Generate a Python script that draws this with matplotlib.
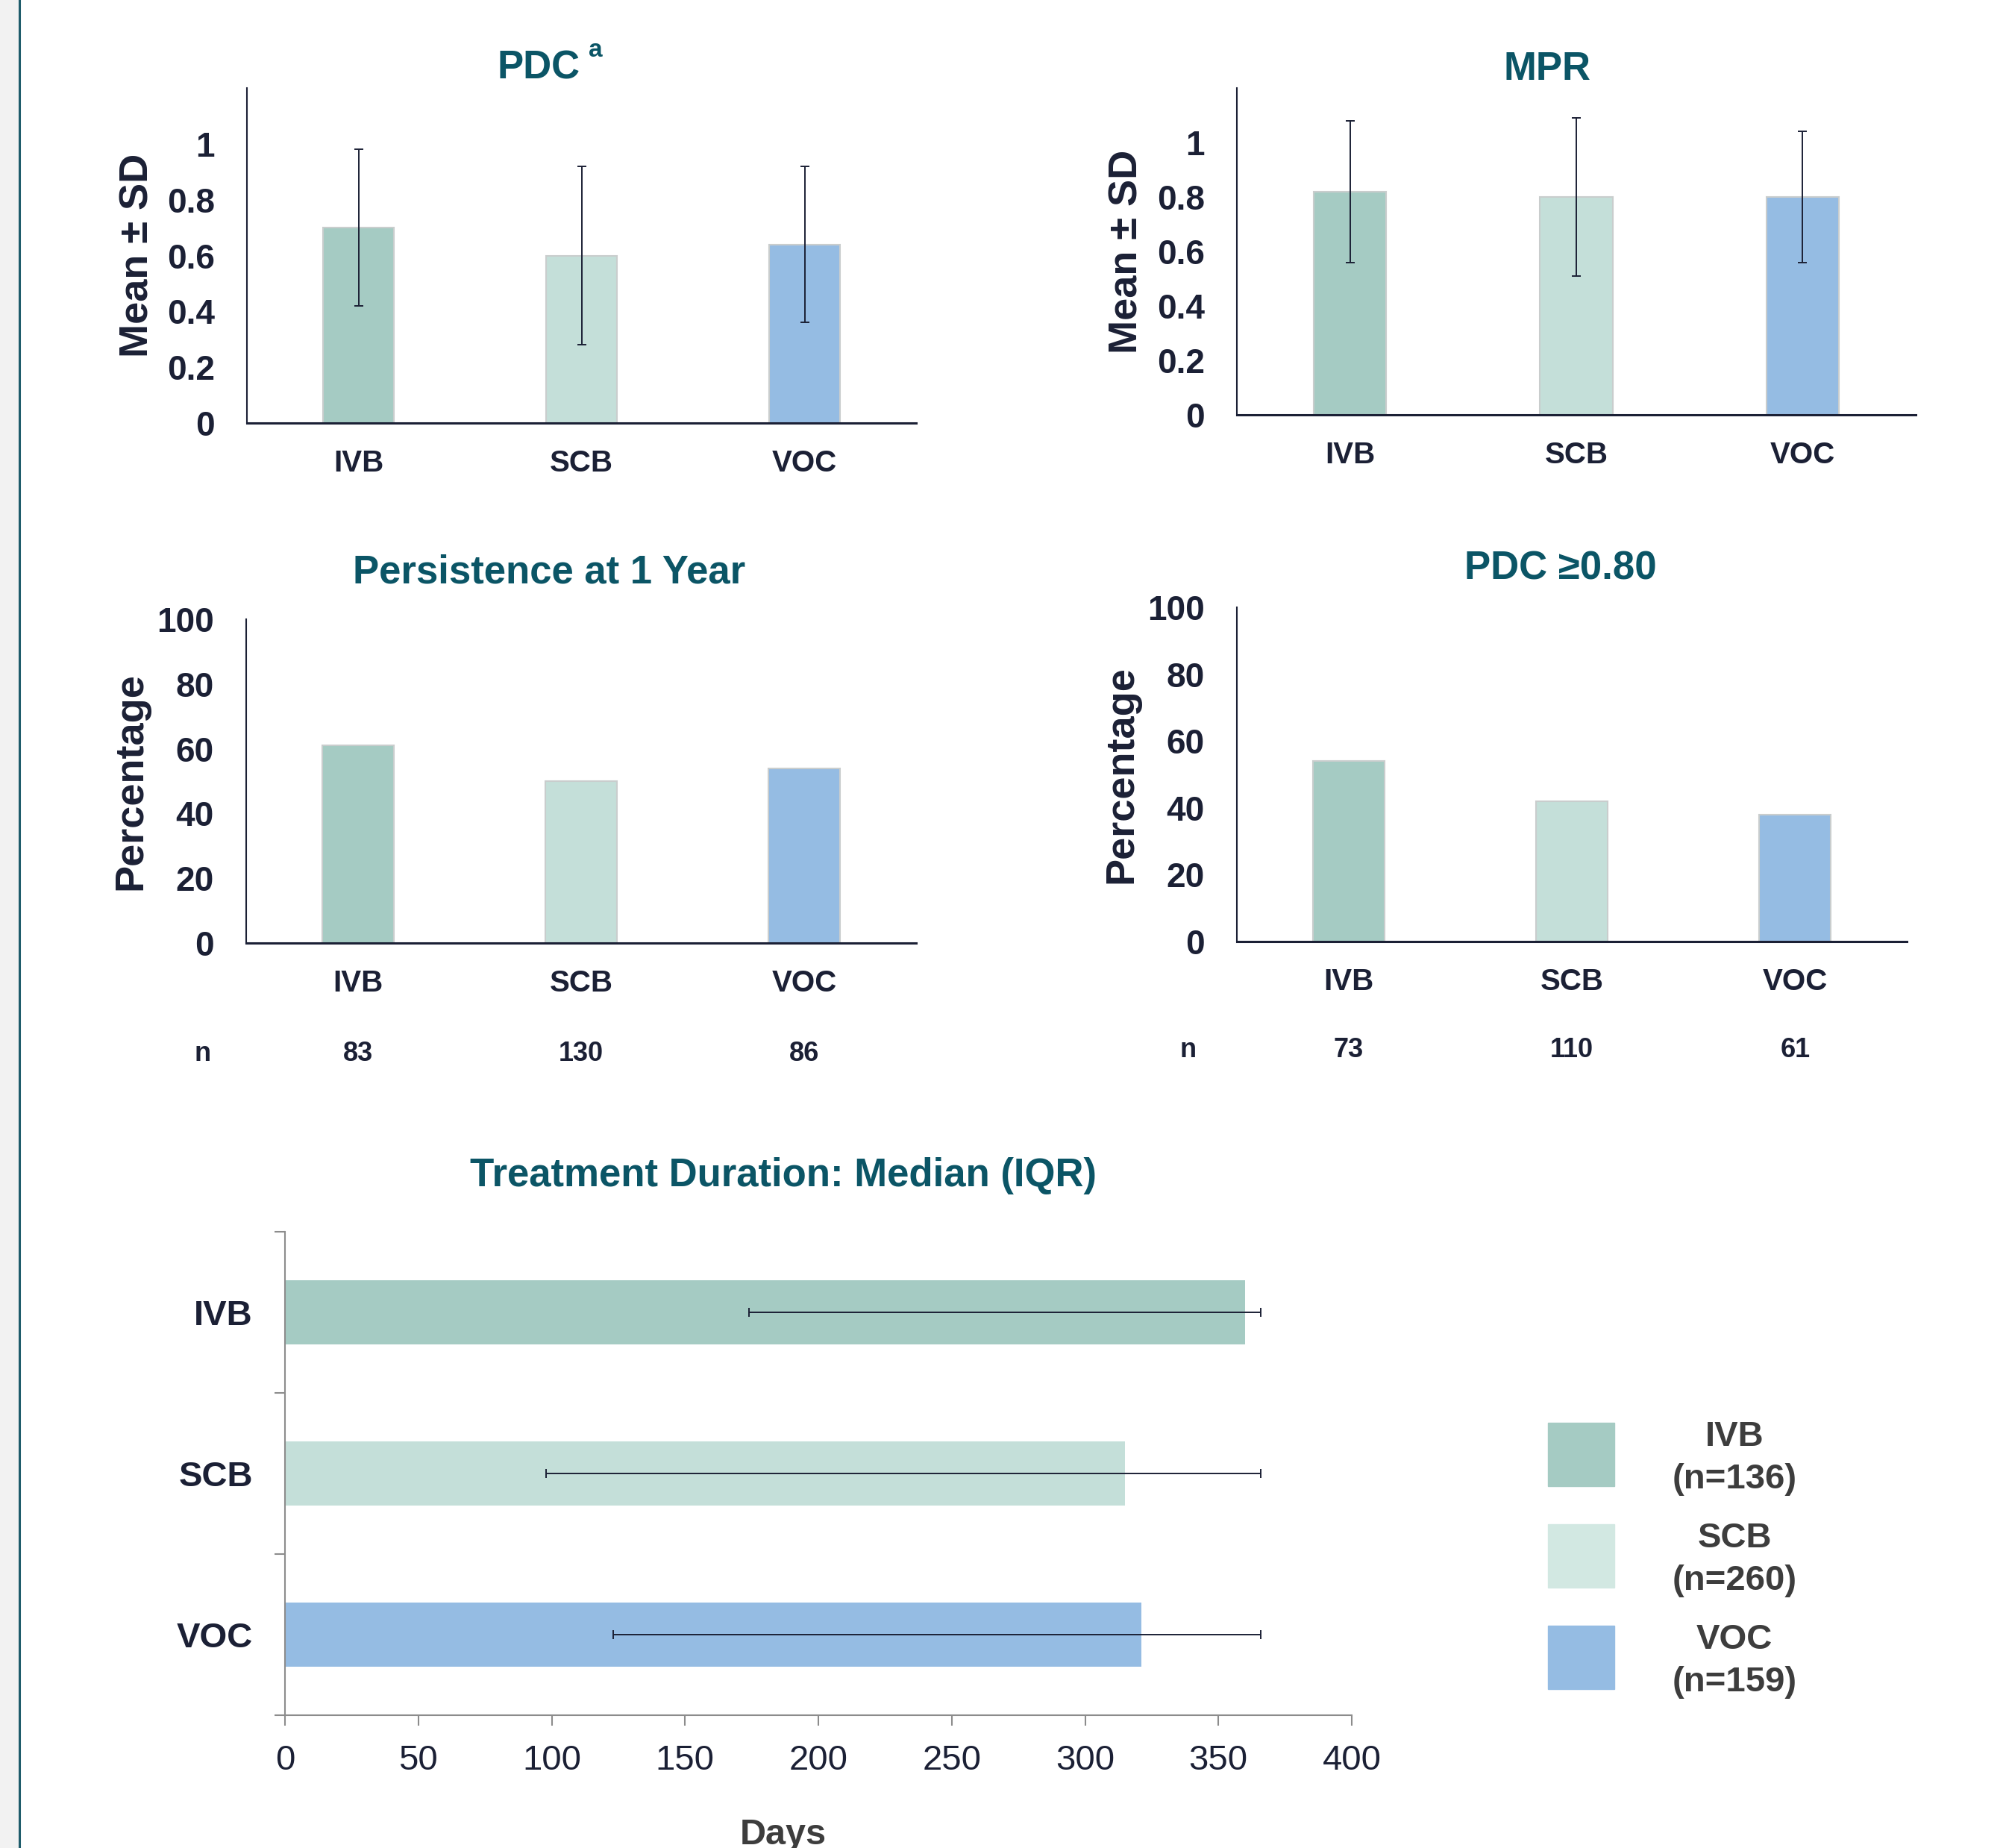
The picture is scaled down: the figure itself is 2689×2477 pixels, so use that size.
import numpy as np
import matplotlib
matplotlib.use('Agg')
import matplotlib.pyplot as plt
from matplotlib.patches import Rectangle
from matplotlib.lines import Line2D
from matplotlib.transforms import blended_transform_factory

plt.rcParams['font.family'] = ['Liberation Sans', 'DejaVu Sans']

groups = ['IVB', 'SCB', 'VOC']
group_n = [136, 260, 159]

pdc_mean = [0.70, 0.60, 0.64]
pdc_sd = [0.28, 0.32, 0.28]
mpr_mean = [0.82, 0.80, 0.80]
mpr_sd = [0.26, 0.29, 0.24]

persist_pct = [61, 50, 54]
persist_n = [83, 130, 86]
pdc80_pct = [54, 42, 38]
pdc80_n = [73, 110, 61]

dur_median = [360, 315, 321]
dur_q1 = [174, 98, 123]
dur_q3 = [366, 366, 366]

ratio_ticks = [0, 0.2, 0.4, 0.6, 0.8, 1]
ratio_labels = ['0', '0.2', '0.4', '0.6', '0.8', '1']
pct_ticks = [0, 20, 40, 60, 80, 100]
day_ticks = [0, 50, 100, 150, 200, 250, 300, 350, 400]

colors = ['#a5cbc3', '#c4dfd9', '#95bce3']
legend_colors = ['#a5cbc3', '#d2e8e2', '#95bce3']
navy = '#1b2035'
teal = '#0b5566'
grey = '#8c8c8c'

W, H = 2689, 2477
fig = plt.figure(figsize=(W / 100, H / 100), dpi=100)


def box(l, t, r, b):
    # pixel box (from top-left) -> figure fraction
    return [l / W, 1 - b / H, (r - l) / W, (b - t) / H]


def fy(px):
    return 1 - px / H


def bar_panel(rect, vals, ylim, yticks, ylabels, ylabel, ylabel_x, err=None):
    ax = fig.add_axes(box(*rect))
    x = np.arange(len(groups))
    ax.bar(x, vals, width=0.32, color=colors, edgecolor='#c9cdcd',
           linewidth=1.5, zorder=2)
    if err is not None:
        ax.errorbar(x, vals, yerr=err, fmt='none', ecolor=navy,
                    elinewidth=1.4, capsize=4.5, capthick=1.4, zorder=3)
    ax.set_xlim(-0.5, 2.5)
    ax.set_ylim(*ylim)
    ax.set_yticks(yticks)
    ax.set_yticklabels(ylabels)
    ax.set_xticks(x)
    ax.set_xticklabels(groups)
    for s in ['top', 'right']:
        ax.spines[s].set_visible(False)
    ax.spines['left'].set_color(navy)
    ax.spines['left'].set_linewidth(1.5)
    ax.spines['bottom'].set_color(navy)
    ax.spines['bottom'].set_linewidth(2.2)
    ax.tick_params(axis='y', length=0, pad=31, labelsize=33, labelcolor=navy)
    ax.tick_params(axis='x', length=0, pad=25, labelsize=29, labelcolor=navy)
    for lab in ax.get_xticklabels() + ax.get_yticklabels():
        lab.set_fontweight('bold')
    ax.text(ylabel_x, 0.5, ylabel, transform=ax.transAxes, rotation=90,
            ha='center', va='center', fontsize=39, fontweight='bold',
            color=navy)
    return ax


def n_row(ax, counts, n_x, y_px):
    trans = blended_transform_factory(ax.transData, fig.transFigure)
    for i, c in enumerate(counts):
        ax.text(i, fy(y_px), str(c), transform=trans, ha='center',
                va='center', fontsize=26, fontweight='bold', color=navy)
    fig.text(n_x / W, fy(y_px), 'n', ha='center', va='center',
             fontsize=26, fontweight='bold', color=navy)


# left page border
fig.patches.append(Rectangle((0, 0), 24 / W, 1, transform=fig.transFigure,
                             color='#f2f2f2', zorder=0))
fig.lines.append(Line2D([25.5 / W, 25.5 / W], [0, 1], transform=fig.transFigure,
                        color='#1f5c6b', linewidth=2.2))

# PDC
ax1 = bar_panel((331, 118, 1228, 567), pdc_mean, (0, 1.2), ratio_ticks,
                ratio_labels, 'Mean ± SD', -0.163, err=pdc_sd)
fig.text(722 / W, fy(106), 'PDC', ha='center', va='baseline',
         fontsize=38, fontweight='bold', color=teal)
fig.text(789 / W, fy(76), 'a', ha='left', va='baseline',
         fontsize=24, fontweight='bold', color=teal)

# MPR
ax2 = bar_panel((1658, 118, 2568, 556), mpr_mean, (0, 1.2), ratio_ticks,
                ratio_labels, 'Mean ± SD', -0.162, err=mpr_sd)
fig.text(2074 / W, fy(107), 'MPR', ha='center', va='baseline',
         fontsize=38, fontweight='bold', color=teal)

# Persistence
ax3 = bar_panel((330, 830, 1228, 1264), persist_pct, (0, 100), pct_ticks,
                [str(t) for t in pct_ticks], 'Percentage', -0.172)
fig.text(736 / W, fy(782), 'Persistence at 1 Year', ha='center',
         va='baseline', fontsize=38, fontweight='bold', color=teal)
n_row(ax3, persist_n, 272, 1412)

# PDC >= 0.80
ax4 = bar_panel((1658, 814, 2556, 1262), pdc80_pct, (0, 100), pct_ticks,
                [str(t) for t in pct_ticks], 'Percentage', -0.172)
fig.text(2092 / W, fy(777), 'PDC ≥0.80', ha='center', va='baseline',
         fontsize=38, fontweight='bold', color=teal)
n_row(ax4, pdc80_n, 1593, 1408)

# Treatment duration
ax5 = fig.add_axes(box(382, 1651, 1812, 2299))
y = np.arange(len(groups))[::-1]
lo = np.array(dur_median) - np.array(dur_q1)
hi = np.array(dur_q3) - np.array(dur_median)
ax5.barh(y, dur_median, height=0.4, color=colors, zorder=2)
ax5.errorbar(dur_median, y, xerr=[lo, hi], fmt='none', ecolor=navy,
             elinewidth=1.4, capsize=4.3, capthick=1.4, zorder=3)
ax5.set_xlim(0, 400)
ax5.set_ylim(-0.5, 2.5)
ax5.set_xticks(day_ticks)
ax5.set_yticks(y)
ax5.set_yticklabels(groups)
ax5.set_yticks([-0.5, 0.5, 1.5, 2.5], minor=True)
for s in ['top', 'right']:
    ax5.spines[s].set_visible(False)
for s in ['left', 'bottom']:
    ax5.spines[s].set_color(grey)
    ax5.spines[s].set_linewidth(1.5)
ax5.tick_params(axis='y', which='major', length=0, pad=31, labelsize=34,
                labelcolor=navy)
ax5.tick_params(axis='y', which='minor', length=10, width=1.5, color=grey)
ax5.tick_params(axis='x', length=10, width=1.5, color=grey, pad=18,
                labelsize=34, labelcolor=navy)
for lab in ax5.get_yticklabels():
    lab.set_fontweight('bold')
fig.text(1050 / W, fy(1590), 'Treatment Duration: Median (IQR)', ha='center',
         va='baseline', fontsize=38, fontweight='bold', color=teal)
fig.text(1050 / W, fy(2472), 'Days', ha='center', va='baseline',
         fontsize=35, fontweight='bold', color='#3d3d3d')

# legend
for i, (g, n) in enumerate(zip(groups, group_n)):
    top = 1907 + i * 136
    fig.patches.append(Rectangle((2075 / W, fy(top + 85)), 89 / W, 85 / H,
                                 transform=fig.transFigure,
                                 color=legend_colors[i]))
    fig.text(2325 / W, fy(top + 31), g, ha='center', va='baseline',
             fontsize=34, fontweight='bold', color='#3d3d3d')
    fig.text(2325 / W, fy(top + 88), '(n=%d)' % n, ha='center',
             va='baseline', fontsize=34, fontweight='bold', color='#3d3d3d')

fig.savefig('out.png', dpi=100, facecolor='white')
